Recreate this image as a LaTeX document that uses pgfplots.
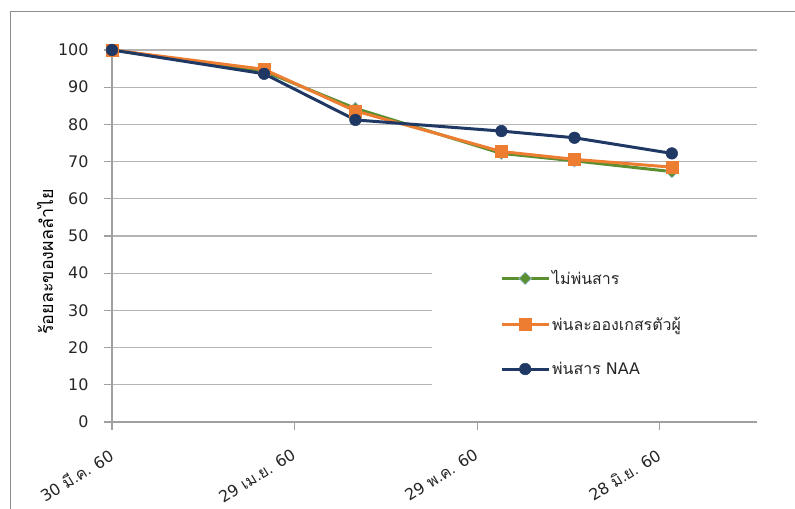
\documentclass[border=0pt]{standalone}
\usepackage{fontspec}
\setmainfont{DejaVu Sans}
\newfontfamily\thaifont[Script=Thai]{Loma}
\usepackage{pgfplots}
\pgfplotsset{compat=1.18}
\definecolor{cgreen}{HTML}{5B8F30}
\definecolor{corange}{HTML}{ED7D31}
\definecolor{cnavy}{HTML}{1F3864}
\definecolor{cblue}{HTML}{9DC3E6}
\definecolor{gridgray}{HTML}{B4B4B4}
\definecolor{axisgray}{HTML}{A0A0A0}
\definecolor{framegray}{HTML}{8C8C8C}
\begin{document}
\begin{tikzpicture}[x=1bp,y=1bp]
\useasboundingbox (0,0) rectangle (795,509);
\draw[color=framegray, line width=1bp] (10,-20) rectangle (820,497);
\begin{axis}[
  at={(112bp,87bp)}, anchor=south west,
  scale only axis, width=645bp, height=372bp,
  xmin=0, xmax=106, ymin=0, ymax=100,
  axis lines=left, axis line style={-, color=axisgray, line width=1.2bp},
  xtick={0,30,60,90},
  xticklabels={30 {\thaifont มี.ค.} 60, 29 {\thaifont เม.ย.} 60, 29 {\thaifont พ.ค.} 60, 28 {\thaifont มิ.ย.} 60},
  ytick={0,10,...,100},
  ymajorgrids, grid style={color=gridgray, line width=1.2bp},
  tick align=outside, major tick length=8bp,
  tick style={color=axisgray, line width=1.2bp},
  /pgf/number format/assume math mode=true,
  tick label style={font=\fontsize{16}{19}\selectfont, text=black!85},
  yticklabel style={xshift=-12bp},
  xticklabel style={yshift=-13bp, xshift=-3bp, rotate=32, anchor=north east},
  every axis y label/.style={at={(rel axis cs:0,0.43)}, xshift=-67bp, rotate=90, anchor=center},
  ylabel={\fontsize{18}{21}\selectfont\thaifont ร้อยละของผลลำไย},
  legend style={at={(rel axis cs:0.6016,0.413)}, anchor=north west, draw=none, fill=none,
    inner sep=0pt, row sep=26.5bp, font=\fontsize{16}{19}\selectfont, text=black!85},
  legend cell align=left,
  legend image code/.code={\draw[mark repeat=2,mark phase=2,#1] plot coordinates {(0bp,0bp) (23.5bp,0bp) (47bp,0bp)};},
]
\fill[white] (axis cs:52.6,47.6) rectangle (axis cs:106,6);
\addplot[color=cgreen, line width=3bp, mark=square*, mark size=4.4bp,
  mark options={rotate=45, fill=cgreen, draw=cblue, line width=0.6bp}]
  coordinates {(0,100) (25,94.3) (40,84.3) (64,72.2) (76,70.2) (92,67.3)};
\addlegendentry{\thaifont ไม่พ่นสาร}
\addplot[color=corange, line width=3bp, mark=square*, mark size=6bp,
  mark options={fill=corange, draw=corange, line width=0.5bp}]
  coordinates {(0,100) (25,94.8) (40,83.6) (64,72.7) (76,70.6) (92,68.5)};
\addlegendentry{\thaifont พ่นละอองเกสรตัวผู้}
\addplot[color=cnavy, line width=3bp, mark=*, mark size=5.8bp,
  mark options={fill=cnavy, draw=cnavy, line width=0.5bp}]
  coordinates {(0,100) (25,93.6) (40,81.2) (64,78.2) (76,76.4) (92,72.2)};
\addlegendentry{{\thaifont พ่นสาร} NAA}
\end{axis}
\end{tikzpicture}
\end{document}
